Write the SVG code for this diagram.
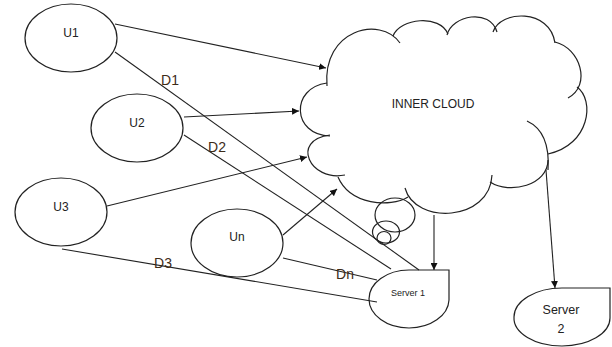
<svg xmlns="http://www.w3.org/2000/svg" width="612" height="347" viewBox="0 0 612 347">
<defs>
<style>
.sh{fill:none;stroke:#222;stroke-width:1.2}
.ln{fill:none;stroke:#222;stroke-width:1.1}
.ar{fill:none;stroke:#222;stroke-width:1.1;marker-end:url(#ah)}
.t{font-family:"Liberation Sans",Arial,sans-serif;fill:#222;text-anchor:middle}
.d{font-family:"Liberation Sans",Arial,sans-serif;fill:#3d2b18;font-size:14px;text-anchor:middle}
</style>
<marker id="ah" viewBox="0 0 10 10" refX="10" refY="5" markerWidth="7" markerHeight="7" markerUnits="userSpaceOnUse" orient="auto">
<path d="M0,0 L10,5 L0,10 Z" fill="#111"/>
</marker>
</defs>
<rect width="612" height="347" fill="#fff"/>
<g id="connectors">
<path class="ar" d="M115,24 L326,68"/>
<path class="ar" d="M184,117 L299,111"/>
<path class="ar" d="M107,206 L307,157"/>
<path class="ar" d="M283,235 L337,189"/>
<path class="ar" d="M434,215 L434,270"/>
<path class="ar" d="M546,170 L555,288"/>
<path class="ln" d="M115,52 L419,270"/>
<path class="ln" d="M184,135 L391,269"/>
<path class="ln" d="M62,249 L377,302"/>
<path class="ln" d="M283,258 L377,280"/>
<text class="d" x="170" y="85">D1</text>
<text class="d" x="217" y="152">D2</text>
<text class="d" x="163" y="268">D3</text>
<text class="d" x="345" y="279">Dn</text>
</g>
<g id="U1"><ellipse class="sh" cx="71" cy="38" rx="46" ry="34"/><text class="t" x="71" y="37" font-size="12">U1</text></g>
<g id="U2"><ellipse class="sh" cx="137" cy="128" rx="46" ry="34"/><text class="t" x="137" y="127" font-size="12">U2</text></g>
<g id="U3"><ellipse class="sh" cx="61" cy="212" rx="46" ry="34"/><text class="t" x="61" y="211" font-size="12">U3</text></g>
<g id="Un"><ellipse class="sh" cx="237" cy="243" rx="46" ry="34"/><text class="t" x="237" y="241" font-size="12">Un</text></g>
<g id="inner-cloud">
<path class="sh" d="M327,86 C322,30 380,15 400,43"/>
<path class="sh" d="M393,36 C400,18 440,14 448,34"/>
<path class="sh" d="M447,35 C452,15 490,8 497,32"/>
<path class="sh" d="M493,32 C500,10 550,8 555,43"/>
<path class="sh" d="M555,42 C580,48 592,85 568,98"/>
<path class="sh" d="M577,87 C595,100 590,145 548,154"/>
<path class="sh" d="M527,121 C540,127 550,140 548,170"/>
<path class="sh" d="M548,160 C548,185 510,195 490,182"/>
<path class="sh" d="M492,175 C490,222 415,225 405,188"/>
<path class="sh" d="M408,197 C390,208 350,205 338,177"/>
<path class="sh" d="M345,175 C310,182 290,140 330,135"/>
<path class="sh" d="M330,136 C292,135 290,88 327,83"/>
<text class="t" x="433" y="108" font-size="12">INNER CLOUD</text>
</g>
<g id="thought-bubbles">
<ellipse class="sh" cx="395" cy="215" rx="20" ry="17"/>
<ellipse class="sh" cx="386" cy="232" rx="13.5" ry="11"/>
<ellipse class="sh" cx="384" cy="238" rx="7" ry="6.5"/>
</g>
<g id="server1">
<path class="sh" d="M409,270 L449,270 L449,300 A40,29 0 0 1 409,328 A40,29 0 0 1 369,299 A40,29 0 0 1 409,270 Z"/>
<text class="t" x="408" y="296" font-size="9">Server 1</text>
</g>
<g id="server2">
<path class="sh" d="M562,288 L610,288 L610,318 A48,28 0 0 1 562,346 A48,28 0 0 1 514,317 A48,29 0 0 1 562,288 Z"/>
<text class="t" x="561" y="314" font-size="12.5">Server</text>
<text class="t" x="561" y="333" font-size="12.5">2</text>
</g>
</svg>
